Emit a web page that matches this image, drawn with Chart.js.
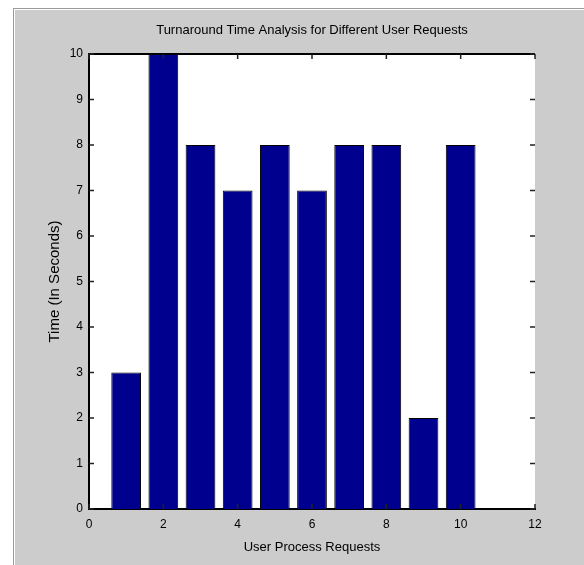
<!DOCTYPE html>
<html>
<head>
<meta charset="utf-8">
<script src="https://cdn.jsdelivr.net/npm/chart.js@4.4.0/dist/chart.umd.min.js"></script>
<style>
  html, body { margin: 0; padding: 0; background: #fff; }
  #frame {
    position: absolute; left: 13px; top: 8px; width: 571px; height: 557px;
    box-sizing: border-box; background: #cccccc;
    border-left: 1px solid #9a9a9a; border-top: 1px solid #9a9a9a;
    box-shadow: inset 1px 1px 0 #fff;
  }
  #canvas { position: absolute; left: 0; top: 0; }
</style>
</head>
<body>
<div id="frame"></div>
<canvas id="canvas" width="584" height="565"></canvas>
<script>
// chart data
const requests = [1, 2, 3, 4, 5, 6, 7, 8, 9, 10];
const turnaroundTimes = [3, 10, 8, 7, 8, 7, 8, 8, 2, 8];
const xTickValues = [0, 2, 4, 6, 8, 10, 12];
const yTickValues = [0, 1, 2, 3, 4, 5, 6, 7, 8, 9, 10];

Chart.defaults.font.family = '"Liberation Sans", Arial, sans-serif';
Chart.defaults.color = "#000";

// white plot background + matlab style inward ticks and top border
const axesBox = {
  id: "axesBox",
  beforeDraw(chart) {
    const { ctx, chartArea: a } = chart;
    ctx.save();
    ctx.fillStyle = "#fff";
    ctx.fillRect(a.left, a.top, a.right - a.left, a.bottom - a.top);
    ctx.restore();
  },
  afterDatasetsDraw(chart) {
    const { ctx, chartArea: a, scales } = chart;
    const len = 5;
    ctx.save();
    ctx.strokeStyle = "#000";
    ctx.lineWidth = 2;
    ctx.beginPath();
    ctx.moveTo(a.left - 1, a.top);
    ctx.lineTo(a.right, a.top);
    ctx.stroke();

    ctx.strokeStyle = "#222";
    ctx.lineWidth = 1.5;
    ctx.beginPath();
    yTickValues.forEach((v) => {
      const y = scales.y.getPixelForValue(v);
      ctx.moveTo(a.left, y);
      ctx.lineTo(a.left + len, y);
      ctx.moveTo(a.right, y);
      ctx.lineTo(a.right - len, y);
    });
    xTickValues.forEach((v) => {
      const x = scales.x.getPixelForValue(v);
      ctx.moveTo(x, a.top);
      ctx.lineTo(x, a.top + len);
      ctx.moveTo(x, a.bottom);
      ctx.lineTo(x, a.bottom - len);
    });
    ctx.stroke();
    ctx.restore();
  },
};

const ctx = document.getElementById("canvas").getContext("2d");

new Chart(ctx, {
  type: "bar",
  data: {
    datasets: [
      {
        data: requests.map((r, i) => ({ x: r, y: turnaroundTimes[i] })),
        backgroundColor: "#00008F",
        borderColor: "#000",
        borderWidth: 1,
        barPercentage: 0.8,
        categoryPercentage: 1,
      },
    ],
  },
  options: {
    responsive: false,
    animation: false,
    layout: { padding: { left: 40, right: 49, top: 0, bottom: 0 } },
    plugins: {
      legend: { display: false },
      tooltip: { enabled: false },
      title: {
        display: true,
        text: "Turnaround Time Analysis for Different User Requests",
        fullSize: false,
        font: { size: 13, weight: "normal" },
        color: "#000",
        padding: { top: 23, bottom: 15.4 },
      },
    },
    scales: {
      x: {
        type: "linear",
        min: 0,
        max: 12,
        offset: false,
        grid: { display: false, drawTicks: false },
        border: { display: true, color: "#000", width: 2 },
        afterBuildTicks: (scale) => {
          scale.ticks = xTickValues.map((v) => ({ value: v }));
        },
        afterFit: (scale) => {
          scale.height = 56;
        },
        ticks: { font: { size: 12 }, padding: 8, maxRotation: 0 },
        title: {
          display: true,
          text: "User Process Requests",
          font: { size: 13 },
          padding: { top: 0, bottom: 10 },
        },
      },
      y: {
        type: "linear",
        min: 0,
        max: 10,
        grid: { display: false, drawTicks: false },
        border: { display: true, color: "#000", width: 2 },
        afterBuildTicks: (scale) => {
          scale.ticks = yTickValues.map((v) => ({ value: v }));
        },
        afterFit: (scale) => {
          scale.width = 49;
        },
        ticks: { font: { size: 12 }, padding: 6 },
        title: {
          display: true,
          text: "Time (In Seconds)",
          font: { size: 15 },
          padding: { top: 6, bottom: 0 },
        },
      },
    },
  },
  plugins: [axesBox],
});
</script>
</body>
</html>
